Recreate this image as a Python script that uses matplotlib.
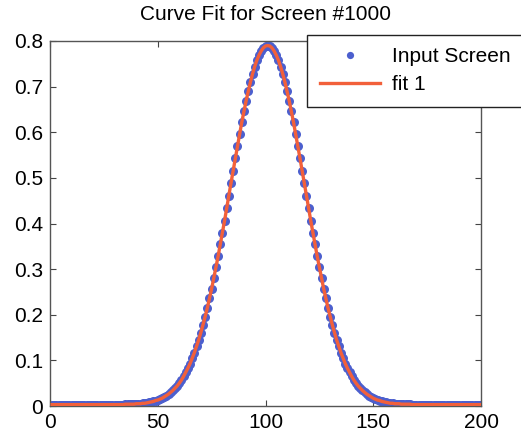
import numpy as np
import matplotlib.pyplot as plt

plt.rcParams['font.family'] = ['Liberation Sans', 'DejaVu Sans']

# screen samples, x = 1..200
x = np.arange(1, 201)
y = [
    0.003, 0.003, 0.003, 0.003, 0.003, 0.003, 0.003, 0.003, 0.003, 0.003,
    0.003, 0.003, 0.003, 0.003, 0.003, 0.003, 0.003, 0.003, 0.003, 0.003,
    0.003, 0.003, 0.003, 0.003, 0.003, 0.003, 0.003, 0.003, 0.003, 0.003,
    0.003, 0.003, 0.003, 0.003, 0.004, 0.004, 0.004, 0.004, 0.004, 0.005,
    0.005, 0.005, 0.006, 0.006, 0.007, 0.008, 0.009, 0.010, 0.012, 0.013,
    0.015, 0.017, 0.020, 0.023, 0.026, 0.030, 0.034, 0.039, 0.044, 0.050,
    0.057, 0.065, 0.074, 0.083, 0.093, 0.105, 0.117, 0.131, 0.145, 0.161,
    0.178, 0.196, 0.215, 0.236, 0.257, 0.280, 0.304, 0.328, 0.354, 0.380,
    0.406, 0.434, 0.461, 0.489, 0.516, 0.543, 0.570, 0.596, 0.622, 0.646,
    0.669, 0.690, 0.710, 0.728, 0.744, 0.758, 0.769, 0.778, 0.785, 0.789,
    0.790, 0.789, 0.785, 0.778, 0.769, 0.758, 0.744, 0.728, 0.710, 0.690,
    0.669, 0.646, 0.622, 0.596, 0.570, 0.543, 0.516, 0.489, 0.461, 0.434,
    0.406, 0.380, 0.354, 0.328, 0.304, 0.280, 0.257, 0.236, 0.215, 0.196,
    0.178, 0.161, 0.145, 0.131, 0.117, 0.105, 0.093, 0.083, 0.074, 0.065,
    0.057, 0.050, 0.044, 0.039, 0.034, 0.030, 0.026, 0.023, 0.020, 0.017,
    0.015, 0.013, 0.012, 0.010, 0.009, 0.008, 0.007, 0.006, 0.006, 0.005,
    0.005, 0.005, 0.004, 0.004, 0.004, 0.004, 0.004, 0.003, 0.003, 0.003,
    0.003, 0.003, 0.003, 0.003, 0.003, 0.003, 0.003, 0.003, 0.003, 0.003,
    0.003, 0.003, 0.003, 0.003, 0.003, 0.003, 0.003, 0.003, 0.003, 0.003,
    0.003, 0.003, 0.003, 0.003, 0.003, 0.003, 0.003, 0.003, 0.003, 0.003,
]
# fitted curve evaluated at the same samples
y_fit = y

xticks = [0, 50, 100, 150, 200]
yticks = [0, 0.1, 0.2, 0.3, 0.4, 0.5, 0.6, 0.7, 0.8]
ytick_labels = ['0', '0.1', '0.2', '0.3', '0.4', '0.5', '0.6', '0.7', '0.8']

fig = plt.figure(figsize=(5.21, 4.42), dpi=100)
ax = fig.add_axes([50 / 521, 36 / 442, 431 / 521, 365 / 442])

ax.plot(x, y, 'o', color='#4c5fce', markersize=6.5, markeredgewidth=0,
        label='Input Screen', zorder=2)
ax.plot(x, y_fit, '-', color='#f2603a', linewidth=2.4, label='fit 1', zorder=3)

ax.set_xlim(0, 200)
ax.set_ylim(0, 0.8)
ax.set_xticks(xticks)
ax.set_yticks(yticks)
ax.set_yticklabels(ytick_labels)
ax.tick_params(direction='in', top=True, right=True, length=4, width=0.8,
               color='#444444', labelsize=15, pad=5)
for s in ax.spines.values():
    s.set_color('#555555')
    s.set_linewidth(1)

ax.set_title('Curve Fit for Screen #1000', fontsize=15, pad=15)

leg = ax.legend(loc='upper left', bbox_to_anchor=(307 / 521, 1 - 35 / 442),
                bbox_transform=fig.transFigure, borderaxespad=0, fontsize=15,
                fancybox=False, framealpha=1, edgecolor='#222222',
                handlelength=2.9, handletextpad=0.6, labelspacing=0.42,
                borderpad=0.6, markerscale=0.8)
leg.get_frame().set_linewidth(1)
leg.set_zorder(5)

plt.savefig('out.png', dpi=100)
